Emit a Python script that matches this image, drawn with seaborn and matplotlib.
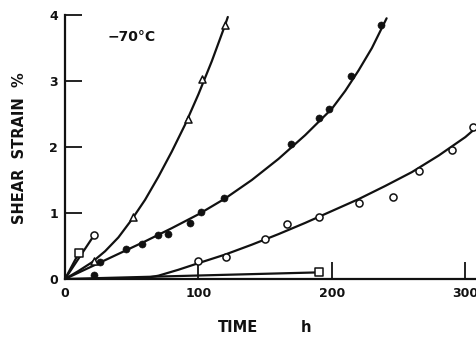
import numpy as np
import pandas as pd
import matplotlib
matplotlib.use("Agg")
import matplotlib.pyplot as plt
import seaborn as sns

tri_t = [22, 51, 92, 103, 120]
tri_s = [0.28, 0.94, 2.42, 3.03, 3.85]

dot_t = [22, 26, 46, 58, 70, 77, 94, 102, 119, 169, 190, 198, 214, 237]
dot_s = [0.06, 0.25, 0.45, 0.53, 0.66, 0.68, 0.85, 1.01, 1.22, 2.04, 2.44, 2.58, 3.07, 3.85]

circ_t = [100, 121, 150, 166, 190, 220, 246, 265, 290, 306]
circ_s = [0.27, 0.34, 0.61, 0.83, 0.94, 1.15, 1.24, 1.64, 1.95, 2.30]

short_circ_t = [22]
short_circ_s = [0.67]

sq_t = [10.5, 190]
sq_s = [0.40, 0.10]

# fitted curves as drawn on the chart
tri_curve_t = [0, 10, 20, 30, 40, 50, 60, 70, 80, 90, 100, 110, 120, 122]
tri_curve_s = [0, 0.12, 0.25, 0.42, 0.63, 0.90, 1.20, 1.55, 1.93, 2.34, 2.80, 3.30, 3.85, 3.97]

dot_curve_t = [0, 20, 40, 60, 80, 100, 120, 140, 160, 180, 200, 210, 220, 230, 241]
dot_curve_s = [0, 0.19, 0.38, 0.57, 0.77, 0.98, 1.22, 1.50, 1.82, 2.18, 2.58, 2.85, 3.16, 3.50, 3.95]

circ_curve_t = [56, 70, 85, 100, 120, 140, 160, 180, 200, 220, 240, 260, 280, 300, 312]
circ_curve_s = [0, 0.05, 0.14, 0.24, 0.37, 0.52, 0.68, 0.85, 1.03, 1.21, 1.41, 1.62, 1.87, 2.15, 2.36]

short_lines = [([0, 10.5], [0, 0.40]), ([0, 22], [0, 0.67]), ([0, 190], [0, 0.10])]

x_ticks = [0, 100, 200, 300]
y_ticks = [0, 1, 2, 3, 4]

sns.set_style("ticks")
plt.rcParams['font.family'] = ['DejaVu Sans']
plt.rcParams['font.weight'] = 'bold'

ink = '#111111'
fig = plt.figure(figsize=(4.76, 3.38), dpi=100)
ax = fig.add_axes([0.1366, 0.1746, 1 - 0.1366, 0.9556 - 0.1746])

curves = [(tri_curve_t, tri_curve_s), (dot_curve_t, dot_curve_s), (circ_curve_t, circ_curve_s)] + short_lines
for t, s in curves:
    sns.lineplot(x=t, y=s, ax=ax, color=ink, lw=1.6, sort=False, estimator=None)

ms = 26
sns.scatterplot(x=tri_t, y=tri_s, ax=ax, marker='^', s=ms, facecolor='white', edgecolor=ink, linewidth=1.1, zorder=5)
sns.scatterplot(x=dot_t, y=dot_s, ax=ax, marker='o', s=ms, color=ink, edgecolor=ink, zorder=5)
sns.scatterplot(x=circ_t + short_circ_t, y=circ_s + short_circ_s, ax=ax, marker='o', s=ms,
                facecolor='white', edgecolor=ink, linewidth=1.1, zorder=5)
sns.scatterplot(x=sq_t, y=sq_s, ax=ax, marker='s', s=ms, facecolor='white', edgecolor=ink, linewidth=1.1, zorder=5)

ax.set_xlim(0, 308)
ax.set_ylim(0, 4)
ax.set_xticks(x_ticks)
ax.set_yticks(y_ticks)
ax.tick_params(direction='in', length=12, width=1.3, colors=ink, labelsize=9, pad=5)
ax.tick_params(axis='x', pad=6)
for lab in ax.get_xticklabels() + ax.get_yticklabels():
    lab.set_fontweight('bold')
sns.despine(ax=ax)
ax.spines['left'].set_linewidth(1.6)
ax.spines['bottom'].set_linewidth(1.6)
ax.spines['left'].set_color(ink)
ax.spines['bottom'].set_color(ink)
ax.set_xlabel('')
ax.set_ylabel('')

ax.text(31.5, 3.67, '\u221270\u00b0C', fontsize=10, fontweight='bold', color=ink, va='center', ha='left')
fig.text(20 / 476, 1 - 148 / 338, 'SHEAR  STRAIN  %', rotation=90, fontsize=10.5,
         fontweight='bold', color=ink, ha='center', va='center')
fig.text(238 / 476, 1 - 328 / 338, 'TIME', fontsize=10.5, fontweight='bold', color=ink, ha='center', va='center')
fig.text(306 / 476, 1 - 328 / 338, 'h', fontsize=10.5, fontweight='bold', color=ink, ha='center', va='center')

fig.savefig('out.png', dpi=100, facecolor='white')
